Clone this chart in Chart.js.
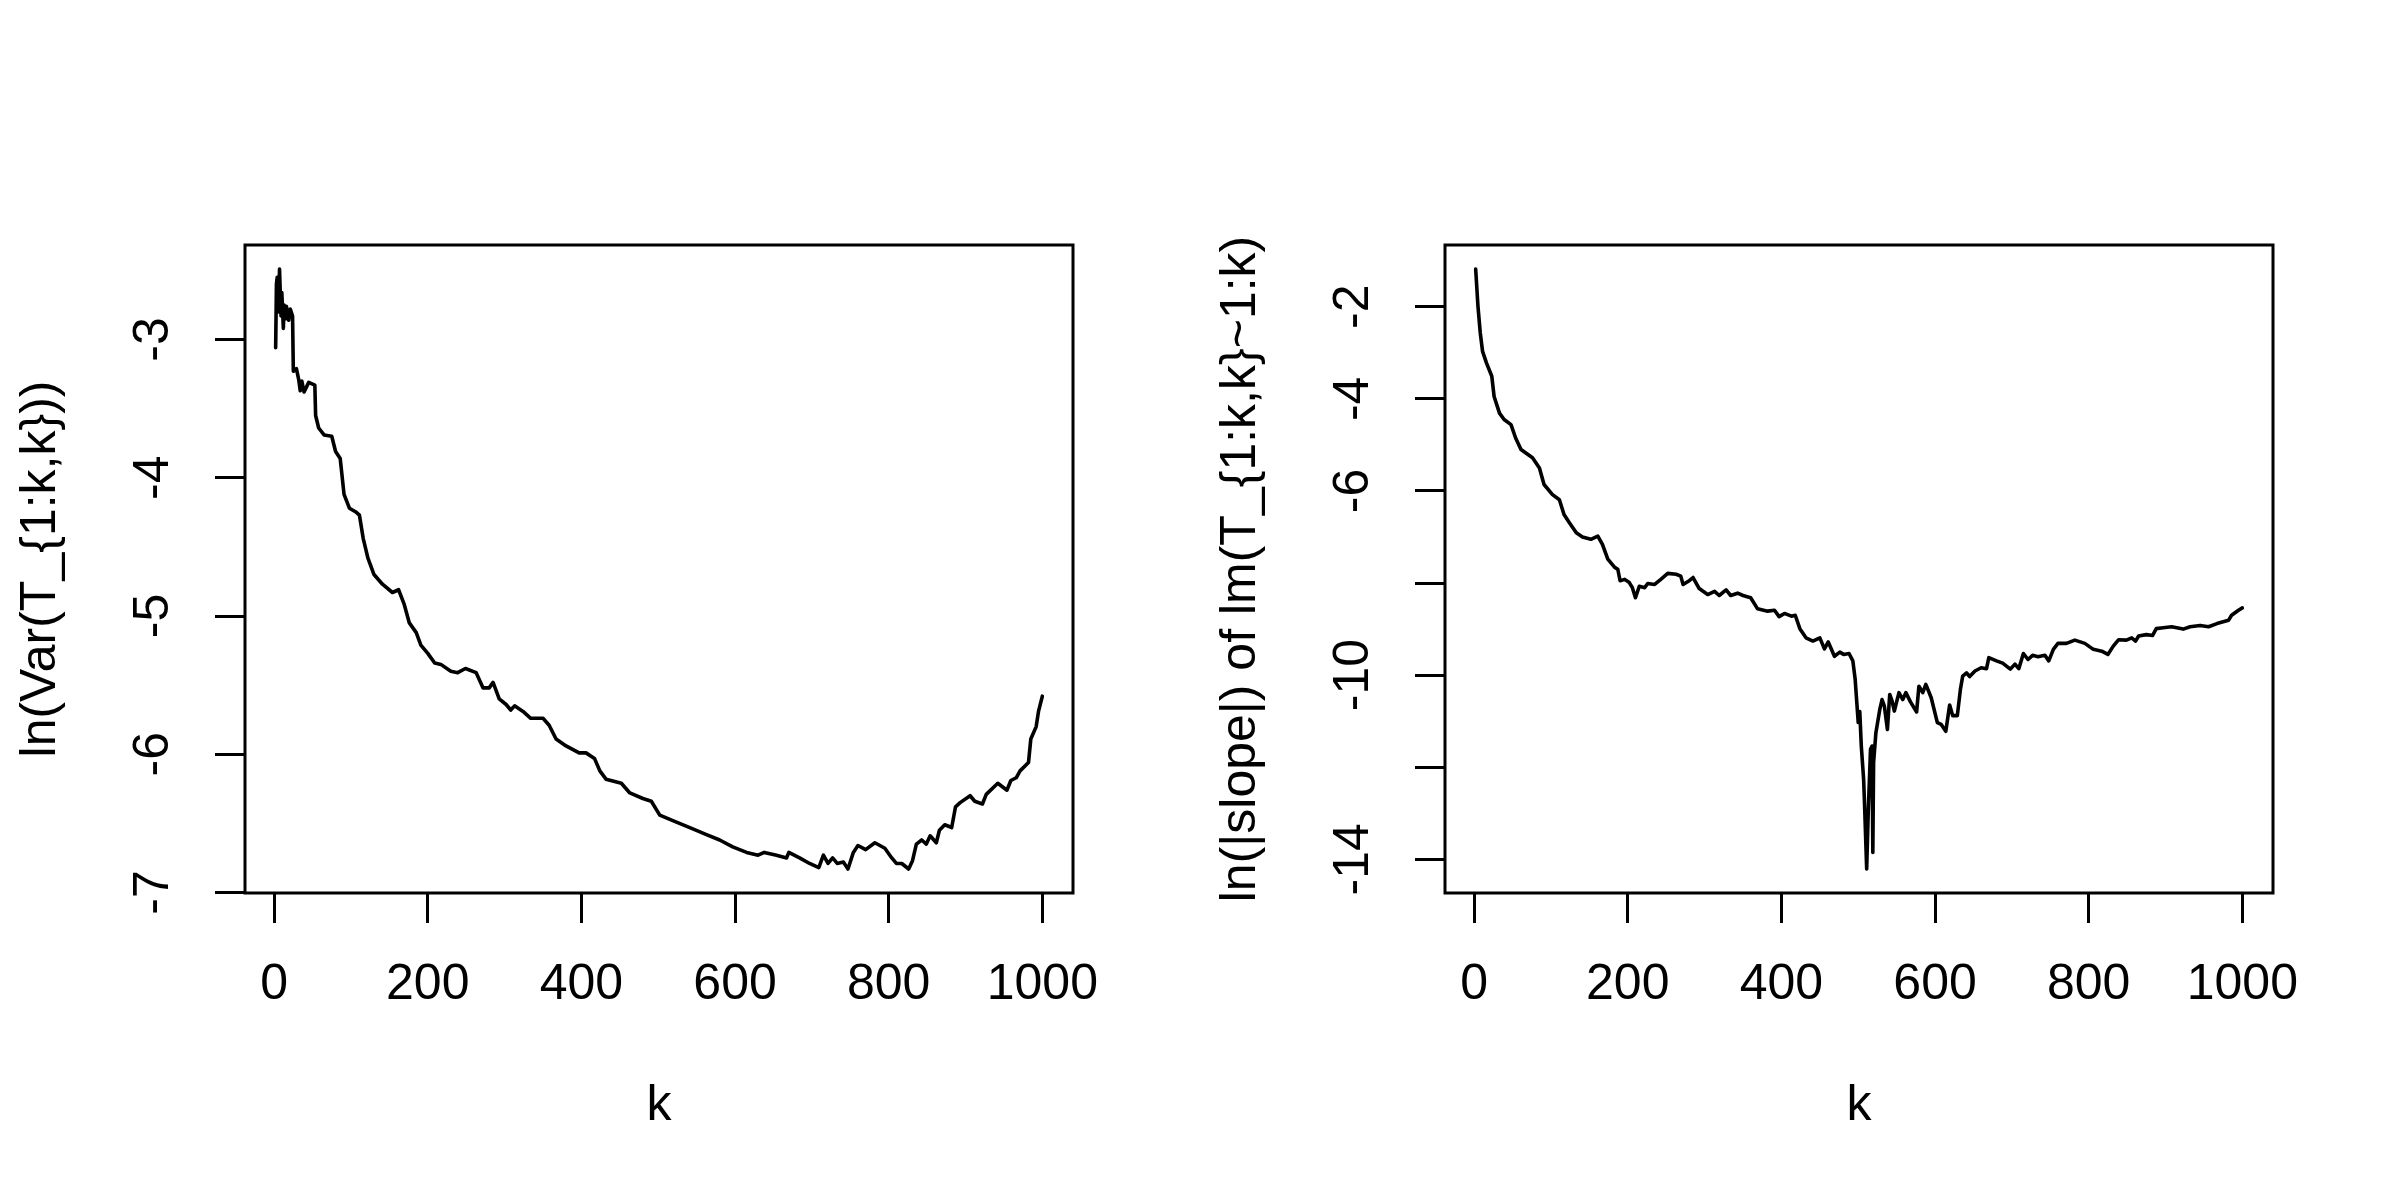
<!DOCTYPE html>
<html>
<head>
<meta charset="utf-8">
<script src="https://cdn.jsdelivr.net/npm/chart.js@4/dist/chart.umd.min.js"></script>
<style>
  body { margin: 0; background: #fff; }
  #wrap { position: relative; width: 2400px; height: 1200px; background: #fff; }
  canvas { position: absolute; top: 0; }
  #left { left: 0; }
  #right { left: 1200px; }
</style>
</head>
<body>
<div id="wrap">
  <canvas id="left" width="1200" height="1200"></canvas>
  <canvas id="right" width="1200" height="1200"></canvas>
</div>
<script>
// left panel: ln(Var(T_{1:k,k})) against k
const kVar = [2, 3, 4, 6, 7, 9, 10, 12, 13, 15, 16, 19, 21, 24, 25, 29, 32, 34, 36, 39, 45, 53, 54, 58, 65, 75, 80, 86, 91, 98,
  107, 111, 116, 122, 130, 141, 154, 162, 169, 176, 185, 191, 200, 209, 217, 230, 239, 249, 263, 272, 280, 285, 293, 302, 308,
  313, 324, 334, 350, 358, 367, 380, 397, 406, 417, 424, 432, 452, 463, 480, 491, 502, 519, 545, 562, 580, 597, 615, 630, 638,
  654, 667, 670, 684, 697, 709, 715, 721, 727, 733, 741, 747, 754, 760, 770, 782, 795, 804, 810, 817, 826, 831, 836, 843, 849,
  854, 862, 866, 873, 882, 887, 893, 906, 912, 922, 927, 942, 954, 959, 966, 971, 982, 985, 992, 995, 1000];
const lnVar = [-3.06, -2.60, -2.55, -2.80, -2.49, -2.83, -2.66, -2.92, -2.75, -2.85, -2.76, -2.86, -2.78, -2.83, -3.23, -3.21,
  -3.29, -3.37, -3.30, -3.38, -3.31, -3.33, -3.55, -3.64, -3.69, -3.70, -3.81, -3.86, -4.12, -4.22,
  -4.25, -4.27, -4.44, -4.58, -4.70, -4.77, -4.83, -4.81, -4.91, -5.05, -5.12, -5.21, -5.27, -5.34, -5.35, -5.40, -5.41, -5.38,
  -5.41, -5.52, -5.52, -5.48, -5.60, -5.64, -5.68,
  -5.65, -5.69, -5.74, -5.74, -5.79, -5.89, -5.94, -5.99, -5.99, -6.03, -6.12, -6.18, -6.21, -6.28, -6.32, -6.34, -6.44, -6.48,
  -6.54, -6.58, -6.62, -6.67, -6.71, -6.73, -6.71,
  -6.73, -6.75, -6.71, -6.75, -6.79, -6.82, -6.73, -6.79, -6.75, -6.79, -6.78, -6.83, -6.71, -6.66, -6.69, -6.64, -6.68, -6.75,
  -6.79, -6.79, -6.83, -6.77, -6.65, -6.62, -6.65,
  -6.59, -6.64, -6.55, -6.51, -6.53, -6.38, -6.35, -6.30, -6.34, -6.36, -6.29, -6.21, -6.26, -6.19, -6.17, -6.12, -6.06, -5.89,
  -5.80, -5.69, -5.58];

// right panel: ln(|slope|) of lm(T_{1:k,k}~1:k)
const kSlope = [2, 5, 8, 11, 16, 23, 26, 33, 39, 48, 54, 61, 76, 85, 91, 102, 111, 117, 124, 133, 141, 152, 161, 167, 174, 183,
  187, 190, 196, 202, 206, 210, 215, 222, 226, 235, 243, 252, 263, 269, 272, 280, 285, 293, 304, 313, 319, 328, 334, 343, 350,
  360, 369, 382, 391, 397, 404, 413, 418, 424, 432, 441, 450, 456, 461, 469, 476, 481, 488, 493, 496, 500, 502, 504, 507, 508,
  511, 513, 516, 518, 519, 520, 523, 528, 531, 534, 538, 541, 544, 547, 553, 558, 562, 568, 576, 579, 584, 588, 595, 603, 608,
  614, 619, 623, 629, 633, 636, 641, 645, 652, 660, 667, 670, 680, 688, 698, 704, 709, 715, 721, 727, 734, 743, 748, 754, 760,
  771, 782, 795, 806, 817, 825, 832, 839, 849, 856, 861, 865, 875, 883, 888, 897, 908, 923, 932, 945, 956, 967, 982, 986, 995, 1000];
const lnSlope = [-1.18, -1.99, -2.57, -2.97, -3.22, -3.51, -3.95, -4.31, -4.45, -4.56, -4.85, -5.10, -5.28, -5.50, -5.86, -6.08,
  -6.19, -6.51, -6.69, -6.91, -7.00, -7.05, -6.98, -7.16, -7.48, -7.66,
  -7.70, -7.95, -7.92, -7.99, -8.10, -8.32, -8.07, -8.10, -8.01, -8.03, -7.92, -7.79, -7.81, -7.85, -8.03, -7.95, -7.88, -8.12,
  -8.25, -8.18, -8.27, -8.15, -8.27, -8.22, -8.27,
  -8.32, -8.56, -8.61, -8.59, -8.73, -8.66, -8.72, -8.70, -8.99, -9.19, -9.26, -9.19, -9.43, -9.28, -9.59, -9.50, -9.55, -9.53,
  -9.69, -10.09, -11.03, -10.79, -11.54, -12.26, -12.70,
  -14.21, -12.99, -11.61, -11.54, -13.85, -11.90, -11.25, -10.75, -10.53, -10.67, -11.18, -10.42, -10.56, -10.78, -10.38, -10.53,
  -10.38, -10.58, -10.80, -10.24, -10.38, -10.20, -10.49, -11.03, -11.07,
  -11.22, -10.65, -10.88, -10.88, -10.31, -10.02, -9.95, -10.03, -9.91, -9.84, -9.86, -9.62, -9.69, -9.74, -9.87, -9.76, -9.86,
  -9.53, -9.66, -9.57, -9.60, -9.57, -9.69, -9.44, -9.31,
  -9.31, -9.24, -9.31, -9.44, -9.48, -9.55, -9.37, -9.23, -9.24, -9.19, -9.26, -9.15, -9.12, -9.14, -8.99, -8.97, -8.95, -9.00,
  -8.95, -8.92, -8.95, -8.88, -8.81, -8.70, -8.59, -8.54];

const xTicks = [0, 200, 400, 600, 800, 1000];
const xTickLabels = ['0', '200', '400', '600', '800', '1000'];
const varTicks = [-7, -6, -5, -4, -3];
const varTickLabels = ['-7', '-6', '-5', '-4', '-3'];
const slopeTicks = [-14, -12, -10, -8, -6, -4, -2];
const slopeTickLabels = ['-14', '', '-10', '', '-6', '-4', '-2'];

const family = "'Liberation Sans', Arial, sans-serif";
const fontSize = 50;
const lw = 3;

// R style limits: data range stretched by 4% each side
function rRange(vals) {
  const lo = Math.min(...vals), hi = Math.max(...vals);
  const pad = (hi - lo) * 0.04;
  return [lo - pad, hi + pad];
}

function halfWidest(labels) {
  const c = document.createElement('canvas').getContext('2d');
  c.font = fontSize + 'px ' + family;
  return Math.max(...labels.map(l => c.measureText(l).width)) / 2;
}

const boxPlugin = {
  id: 'box',
  afterDraw(chart) {
    const {ctx, chartArea} = chart;
    ctx.save();
    ctx.strokeStyle = '#000';
    ctx.lineWidth = lw;
    ctx.strokeRect(chartArea.left, chartArea.top, chartArea.right - chartArea.left, chartArea.bottom - chartArea.top);
    ctx.restore();
  }
};

function makePanel(id, ks, vals, yTicks, yLabels, yTitle) {
  const [xmin, xmax] = rRange(ks);
  const [ymin, ymax] = rRange(vals);
  const labelPad = 91 - 30 - halfWidest(yLabels);
  return new Chart(document.getElementById(id).getContext('2d'), {
    type: 'line',
    data: {
      datasets: [{
        data: ks.map((k, i) => ({x: k, y: vals[i]})),
        borderColor: '#000',
        borderWidth: 3.6,
        borderJoinStyle: 'round',
        borderCapStyle: 'round',
        pointRadius: 0,
        tension: 0,
        fill: false
      }]
    },
    options: {
      responsive: false,
      animation: false,
      layout: {padding: {top: 245, right: 127, left: 0, bottom: 0}},
      plugins: {
        legend: {display: false},
        tooltip: {enabled: false}
      },
      scales: {
        x: {
          type: 'linear',
          position: 'bottom',
          min: xmin,
          max: xmax,
          afterBuildTicks: s => { s.ticks = xTicks.map(v => ({value: v})); },
          afterFit: s => { s.height = 307; },
          grid: {drawOnChartArea: false, drawTicks: true, tickLength: 30, color: '#000', lineWidth: lw},
          border: {display: false},
          ticks: {
            autoSkip: false,
            maxRotation: 0,
            color: '#000',
            padding: 32,
            font: {family: family, size: fontSize},
            callback: (v, i) => xTickLabels[i]
          },
          title: {display: true, text: 'k', color: '#000', font: {family: family, size: fontSize}, padding: {top: 0, bottom: 64}}
        },
        y: {
          type: 'linear',
          position: 'left',
          min: ymin,
          max: ymax,
          afterBuildTicks: s => { s.ticks = yTicks.map(v => ({value: v})); },
          afterFit: s => { s.width = 245; },
          grid: {drawOnChartArea: false, drawTicks: true, tickLength: 30, color: '#000', lineWidth: lw},
          border: {display: false},
          ticks: {
            autoSkip: false,
            minRotation: 90,
            maxRotation: 90,
            crossAlign: 'center',
            color: '#000',
            padding: labelPad,
            font: {family: family, size: fontSize},
            callback: (v, i) => yLabels[i]
          },
          title: {display: true, text: yTitle, color: '#000', font: {family: family, size: fontSize}, padding: {top: 11, bottom: 0}}
        }
      }
    },
    plugins: [boxPlugin]
  });
}

makePanel('left', kVar, lnVar, varTicks, varTickLabels, 'ln(Var(T_{1:k,k}))');
makePanel('right', kSlope, lnSlope, slopeTicks, slopeTickLabels, 'ln(|slope|) of lm(T_{1:k,k}~1:k)');
</script>
</body>
</html>
